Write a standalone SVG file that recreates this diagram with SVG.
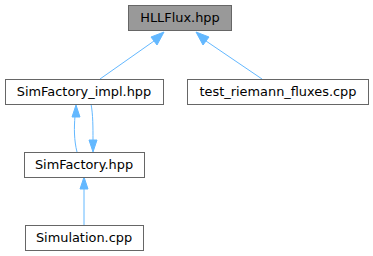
<svg xmlns="http://www.w3.org/2000/svg" width="373" height="256" viewBox="0 0 373 256">
<style>
.n rect{fill:#fff;stroke:#666;stroke-width:1}
.n text{font-family:"DejaVu Sans",sans-serif;font-size:12.9px;fill:#000;text-anchor:middle}
.e path{fill:none;stroke:#63b8ff;stroke-width:1}
.e polygon{fill:#63b8ff;stroke:#63b8ff;stroke-width:1}
</style>
<rect width="373" height="256" fill="#fff"/>
<g class="e" id="edges">
<path d="M100,79 L154,41"/>
<polygon points="164,32 151,37 157,45"/>
<path d="M262,79 L206,41"/>
<polygon points="196,32 203,45 209,37"/>
<path d="M77,152 C74,140 74,128 75,116"/>
<polygon points="76,105 72,117 80,117"/>
<path d="M91,104 C93,114 93,128 93,140"/>
<polygon points="93,152 89,140 97,140"/>
<path d="M84,225 L84,188"/>
<polygon points="84,177 80,189 88,189"/>
</g>
<g class="n" id="hllflux">
<rect x="128.5" y="5.5" width="103" height="25" style="fill:#999"/>
<text x="180" y="22">HLLFlux.hpp</text>
</g>
<g class="n" id="simfactory_impl">
<rect x="5.5" y="79.5" width="158" height="25"/>
<text x="84" y="96">SimFactory_impl.hpp</text>
</g>
<g class="n" id="test_riemann">
<rect x="187.5" y="79.5" width="181" height="25"/>
<text x="278" y="96">test_riemann_fluxes.cpp</text>
</g>
<g class="n" id="simfactory">
<rect x="24.5" y="152.5" width="120" height="25"/>
<text x="84" y="169">SimFactory.hpp</text>
</g>
<g class="n" id="simulation">
<rect x="25.5" y="225.5" width="118" height="25"/>
<text x="84" y="242">Simulation.cpp</text>
</g>
</svg>
